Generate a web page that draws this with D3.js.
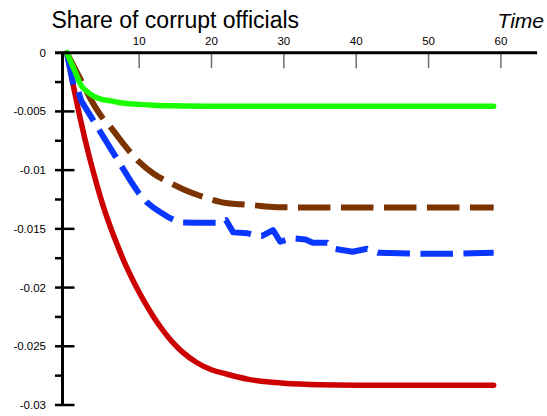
<!DOCTYPE html>
<html>
<head>
<meta charset="utf-8">
<script src="https://cdn.jsdelivr.net/npm/d3@7/dist/d3.min.js"></script>
<style>
  html, body { margin: 0; padding: 0; background: #fff; }
  svg { display: block; font-family: "Liberation Sans", Arial, sans-serif; }
</style>
</head>
<body>
<svg id="chart" width="547" height="416"></svg>
<script>
// ---- data ----
const xTickValues = [10, 20, 30, 40, 50, 60];
const yMajorTicks = [0, -0.005, -0.01, -0.015, -0.02, -0.025, -0.03];
const yMinorTicks = [-0.0025, -0.0075, -0.0125, -0.0175, -0.0225, -0.0275];
const yTickLabels = ["0", "-0.005", "-0.01", "-0.015", "-0.02", "-0.025", "-0.03"];

const redTime  = [0, 1, 2, 3, 4, 5, 6, 7, 8, 9, 10, 11, 12, 13, 14, 15, 16, 18, 20, 22, 25, 28, 30, 35, 40, 50, 59];
const redValue = [0, -0.0031, -0.0060, -0.0086, -0.0109, -0.0130, -0.0148, -0.0164, -0.0179, -0.0192, -0.0204, -0.0215, -0.0225, -0.0234, -0.0242, -0.0249, -0.0255, -0.0264, -0.0270, -0.02735, -0.0278, -0.02805, -0.02815, -0.02828, -0.02832, -0.02832, -0.02832];

const greenTime  = [0, 1, 2, 3, 4, 5, 6, 8, 10, 12, 15, 20, 30, 45, 59];
const greenValue = [0, -0.0014, -0.0028, -0.0034, -0.0038, -0.0040, -0.0041, -0.0043, -0.0044, -0.00447, -0.00452, -0.00455, -0.00456, -0.00456, -0.00456];

const brownTime  = [0, 1, 2, 3, 4, 5, 6, 7, 8, 10, 12, 14, 16, 18, 20, 22, 24, 26, 28, 30, 40, 59];
const brownValue = [0, -0.0012, -0.0024, -0.0036, -0.0047, -0.0056, -0.0063, -0.0071, -0.0079, -0.0093, -0.0103, -0.0110, -0.0116, -0.0121, -0.0125, -0.0128, -0.0129, -0.0130, -0.01312, -0.01317, -0.01318, -0.01318];

const blueTime  = [0, 1, 1.5, 2, 3, 4, 5, 6, 7, 8, 9, 10, 11, 12, 13, 14, 15, 16, 18, 21, 22, 23, 25, 26, 27, 28.5, 29.5, 31, 33, 34, 36, 37, 39.5, 41.5, 43, 46, 49, 53, 56, 59];
const blueValue = [0, -0.0030, -0.0031, -0.0041, -0.0051, -0.0061, -0.0071, -0.0081, -0.0091, -0.0101, -0.0111, -0.0120, -0.0127, -0.0132, -0.0136, -0.0140, -0.0143, -0.01445, -0.01448, -0.01448, -0.01425, -0.0153, -0.01538, -0.01555, -0.0156, -0.0151, -0.0161, -0.0158, -0.0159, -0.01618, -0.01618, -0.0167, -0.01695, -0.0167, -0.01703, -0.01708, -0.01712, -0.01712, -0.01708, -0.01703];

// ---- scales ----
const svg = d3.select("#chart");
const x = d3.scaleLinear().domain([0, 60]).range([66.8, 500.9]);
const y = d3.scaleLinear().domain([0, -0.03]).range([52.7, 405]);
const axisX = 62.5;

// ---- title ----
svg.append("text").attr("x", 51.5).attr("y", 28).attr("font-size", 23).attr("fill", "#000")
  .text("Share of corrupt officials");
svg.append("text").attr("x", 544).attr("y", 28).attr("font-size", 21).attr("font-style", "italic")
  .attr("text-anchor", "end").attr("fill", "#000").text("Time");

// ---- series ----
const mk = (t, v) => t.map((d, i) => ({ t: d, v: v[i] }));
const smooth = d3.line().x(d => x(d.t)).y(d => y(d.v)).curve(d3.curveMonotoneX);
const straight = d3.line().x(d => x(d.t)).y(d => y(d.v)).curve(d3.curveLinear);

svg.append("path").datum(mk(redTime, redValue)).attr("d", smooth)
  .attr("fill", "none").attr("stroke", "#cc0000").attr("stroke-width", 5.5)
  .attr("stroke-linecap", "round").attr("stroke-linejoin", "round");
svg.append("path").datum(mk(blueTime, blueValue)).attr("d", straight)
  .attr("fill", "none").attr("stroke", "#0a37ff").attr("stroke-width", 6)
  .attr("stroke-dasharray", "32.5,10.5").attr("stroke-linejoin", "round");
svg.append("path").datum(mk(brownTime, brownValue)).attr("d", smooth)
  .attr("fill", "none").attr("stroke", "#7b3300").attr("stroke-width", 6)
  .attr("stroke-dasharray", "32.5,10.5");
svg.append("path").datum(mk(greenTime, greenValue)).attr("d", smooth)
  .attr("fill", "none").attr("stroke", "#19ff00").attr("stroke-width", 5.5)
  .attr("stroke-linecap", "round").attr("stroke-linejoin", "round");

// ---- x axis (top) ----
svg.append("g").selectAll("line").data(xTickValues).join("line")
  .attr("x1", d => x(d)).attr("x2", d => x(d)).attr("y1", y(0)).attr("y2", y(0) + 15.5)
  .attr("stroke", "#6e6e6e").attr("stroke-width", 1.5);
svg.append("g").selectAll("text").data(xTickValues).join("text")
  .attr("x", d => x(d)).attr("y", 45).attr("text-anchor", "middle")
  .attr("font-size", 11.5).attr("fill", "#000").text(d => d);
svg.append("line").attr("x1", 55).attr("x2", x(65)).attr("y1", y(0)).attr("y2", y(0))
  .attr("stroke", "#000").attr("stroke-width", 3);

// ---- y axis (left) ----
svg.append("line").attr("x1", axisX).attr("x2", axisX).attr("y1", y(0)).attr("y2", y(-0.03) + 1)
  .attr("stroke", "#000").attr("stroke-width", 3);
svg.append("g").selectAll("line").data(yMajorTicks.slice(1)).join("line")
  .attr("x1", 55).attr("x2", 74.5).attr("y1", d => y(d)).attr("y2", d => y(d))
  .attr("stroke", "#000").attr("stroke-width", 2.5);
svg.append("g").selectAll("line").data(yMinorTicks).join("line")
  .attr("x1", 55).attr("x2", axisX).attr("y1", d => y(d)).attr("y2", d => y(d))
  .attr("stroke", "#000").attr("stroke-width", 2.5);
svg.append("g").selectAll("text").data(yMajorTicks).join("text")
  .attr("x", 46).attr("y", d => y(d)).attr("dy", "0.35em").attr("text-anchor", "end")
  .attr("font-size", 11.5).attr("fill", "#000").text((d, i) => yTickLabels[i]);
</script>
</body>
</html>
